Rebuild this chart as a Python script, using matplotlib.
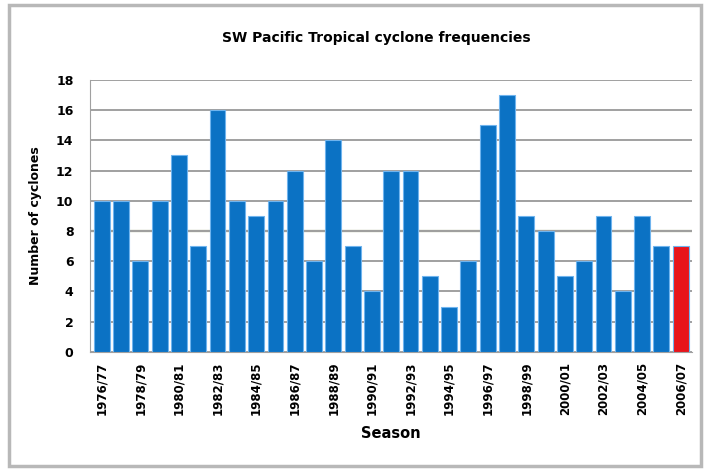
import numpy as np
import matplotlib.pyplot as plt
from matplotlib.patches import Rectangle

seasons = ["%d/%02d" % (y, (y + 1) % 100) for y in range(1976, 2007)]
cyclones = [10, 10, 6, 10, 13, 7, 16, 10, 9, 10, 12, 6, 14, 7, 4, 12,
            12, 5, 3, 6, 15, 17, 9, 8, 5, 6, 9, 4, 9, 7, 7]
tick_labels = seasons[::2]

fig = plt.figure(figsize=(7.1, 4.73), dpi=100)
# outer grey frame like the spreadsheet chart border
fig.patches.append(Rectangle((0.012, 0.015), 0.975, 0.975, transform=fig.transFigure,
                             fill=False, edgecolor="#b8b8b8", linewidth=2.5))

ax = fig.add_axes([0.127, 0.256, 0.848, 0.575])
x = np.arange(len(cyclones))
colors = ["#0b72c4"] * (len(cyclones) - 1) + ["#e8141a"]
ax.bar(x, cyclones, width=0.82, color=colors, edgecolor="#6fb4ee", linewidth=0.8, zorder=3)

ax.set_ylim(0, 18)
ax.set_xlim(-0.6, len(cyclones) - 0.4)
ax.set_yticks(range(0, 19, 2))
ax.set_yticklabels([str(v) for v in range(0, 19, 2)], fontsize=9, fontweight="bold")
ax.yaxis.grid(True, color="#a0a0a0", linewidth=1.4, zorder=0)
ax.axhline(8, color="#8a9468", linewidth=1.6, zorder=1)
ax.set_xticks(x[::2])
ax.set_xticklabels(tick_labels, rotation=90, fontsize=8.5, fontweight="bold")
ax.tick_params(length=0)
ax.tick_params(axis="y", pad=12)
ax.tick_params(axis="x", pad=7)
for s in ["top", "right"]:
    ax.spines[s].set_visible(False)
ax.spines["left"].set_color("#a0a0a0")
ax.spines["bottom"].set_color("#a0a0a0")

ax.set_xlabel("Season", fontsize=10.5, fontweight="bold", labelpad=8)
ax.set_ylabel("Number of cyclones", fontsize=9, fontweight="bold", labelpad=10)
fig.text(0.53, 0.92, "SW Pacific Tropical cyclone frequencies", ha="center", va="center",
         fontsize=10, fontweight="bold")

fig.savefig("out.png", dpi=100)
